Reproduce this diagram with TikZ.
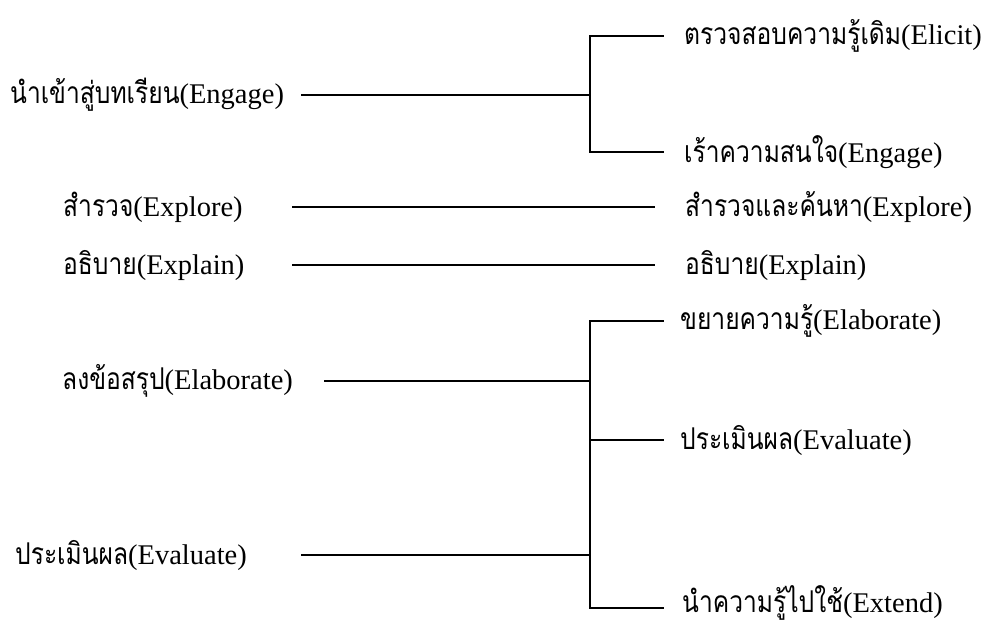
\documentclass[tikz,border=0pt]{standalone}
\usepackage{fontspec}
\usepackage{graphicx}
\setmainfont{Liberation Serif}
\newfontfamily\thaifont[Script=Thai]{Loma}
\newcommand{\thx}[1]{\scalebox{0.82}[1]{\thaifont\fontsize{30}{36}\selectfont #1}}
\begin{document}
\begin{tikzpicture}[x=1pt,y=-1pt,
  lbl/.style={anchor=west,inner sep=0pt,font=\fontsize{28.5}{32}\selectfont},
  conn/.style={line width=1.6pt,line cap=rect}]
\useasboundingbox (0,0) rectangle (1005,624);
% left labels
\node[lbl] (L1) at (10,95) {\thx{นำเข้าสู่บทเรียน}(Engage)};
\node[lbl] (L2) at (63,207) {\thx{สำรวจ}(Explore)};
\node[lbl] (L3) at (63,265) {\thx{อธิบาย}(Explain)};
\node[lbl] (L4) at (62,381) {\thx{ลงข้อสรุป}(Elaborate)};
\node[lbl] (L5) at (15,555) {\thx{ประเมินผล}(Evaluate)};
% right labels
\node[lbl] (R1) at (684,36) {\thx{ตรวจสอบความรู้เดิม}(Elicit)};
\node[lbl] (R2) at (684,152) {\thx{เร้าความสนใจ}(Engage)};
\node[lbl] (R3) at (685,207) {\thx{สำรวจและค้นหา}(Explore)};
\node[lbl] (R4) at (685,265) {\thx{อธิบาย}(Explain)};
\node[lbl] (R5) at (680,321) {\thx{ขยายความรู้}(Elaborate)};
\node[lbl] (R6) at (680,440) {\thx{ประเมินผล}(Evaluate)};
\node[lbl] (R7) at (682,603) {\thx{นำความรู้ไปใช้}(Extend)};
% coordinates
\coordinate (a1) at (302,95);
\coordinate (j1) at (590,95);
\coordinate (t1) at (590,36);
\coordinate (b1) at (590,152);
\coordinate (e1) at (663,36);
\coordinate (e2) at (663,152);
\coordinate (a2) at (293,207);
\coordinate (e3) at (654,207);
\coordinate (a3) at (293,265);
\coordinate (e4) at (654,265);
\coordinate (a4) at (325,381);
\coordinate (j4) at (590,381);
\coordinate (a5) at (302,555);
\coordinate (j5) at (590,555);
\coordinate (t2) at (590,321);
\coordinate (m2) at (590,440);
\coordinate (b2) at (590,608);
\coordinate (e5) at (663,321);
\coordinate (e6) at (663,440);
\coordinate (e7) at (663,608);
% connectors
\draw[conn] (a1) -- (j1);
\draw[conn] (e1) -- (t1) -- (b1) -- (e2);
\draw[conn] (a2) -- (e3);
\draw[conn] (a3) -- (e4);
\draw[conn] (a4) -- (j4);
\draw[conn] (a5) -- (j5);
\draw[conn] (e5) -- (t2) -- (b2) -- (e7);
\draw[conn] (m2) -- (e6);
\end{tikzpicture}
\end{document}
